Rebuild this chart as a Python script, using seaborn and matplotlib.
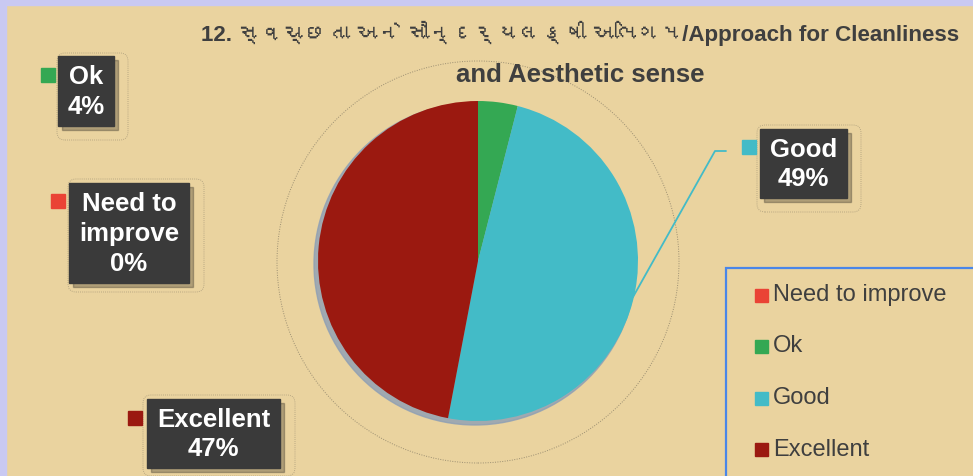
import matplotlib
matplotlib.use('Agg')
import matplotlib.pyplot as plt
import seaborn as sns
from matplotlib import font_manager, ft2font
from matplotlib.patches import Rectangle, FancyBboxPatch, Circle

categories = ['Need to improve', 'Ok', 'Good', 'Excellent']
percent = [0, 4, 49, 47]
slice_colors = ['#EA4335', '#34A853', '#43BBC7', '#9B1910']
title_line1 = '12. સ્વચ્છતા અને સૌન્દર્યલક્ષી અભિગમ/Approach for Cleanliness'
title_line2 = 'and Aesthetic sense'

sns.set_theme(style='white')

# look for any installed family that carries Gujarati glyphs
gujarati = None
for f in font_manager.fontManager.ttflist:
    try:
        cmap = ft2font.FT2Font(f.fname).get_charmap()
    except Exception:
        continue
    if 0x0A85 in cmap and 0x0AB8 in cmap:
        gujarati = f.name
        break

families = ['Liberation Sans']
if gujarati:
    families.append(gujarati)
families.append('DejaVu Sans')
plt.rcParams['font.family'] = families

W, H = 973, 476
fig = plt.figure(figsize=(W / 100, H / 100), dpi=100)
fig.patch.set_facecolor('#EAD39F')
ax = fig.add_axes([0, 0, 1, 1])
ax.patch.set_alpha(0)


def Y(y):
    # top-origin pixel -> data
    return H - y


palette = sns.color_palette(slice_colors)

# frame of the slide
ax.add_patch(Rectangle((0, 0), 6, H, color='#C9C9F2', zorder=1))
ax.add_patch(Rectangle((0, Y(5)), W, 5, color='#C9C9F2', zorder=1))

# dotted ring and soft shadow behind the pie
cx, cy, r = 478, Y(261), 160
ax.add_patch(Circle((cx, Y(262)), 201, fill=False, ls=(0, (1, 1.5)),
                    lw=0.7, color='#9C8F72', zorder=1))
ax.add_patch(Circle((cx - 3, cy - 3), r + 1, color='#8E9FB5', alpha=0.8, zorder=1))

wedges, _ = ax.pie(percent, colors=palette, startangle=90, counterclock=False,
                   center=(cx, cy), radius=r, wedgeprops=dict(linewidth=0))
for w in wedges:
    w.set_zorder(2)

# leader line for Good
ax.plot([633, 715, 726], [Y(297), Y(151), Y(151)], color='#43BBC7', lw=1.3, zorder=3)

# data labels: (center x, center y, width, height, marker x, marker y, outline)
label_boxes = {
    'Ok': (86, 91, 56, 70, 48, 75, (57, 53, 128, 140)),
    'Need to improve': (129, 233, 120, 100, 58, 201, (68, 179, 204, 292)),
    'Good': (803.5, 163.5, 87, 69, 749, 147, (757, 125, 861, 212)),
    'Excellent': (213.5, 433.5, 133, 69, 135, 418, (143, 395, 295, 476)),
}
label_text = {'Need to improve': 'Need to\nimprove'}

for name, pct, col in zip(categories, percent, palette):
    bx, by, bw, bh, mx, my, (ox0, oy0, ox1, oy1) = label_boxes[name]
    ax.add_patch(FancyBboxPatch((ox0, Y(oy1)), ox1 - ox0, oy1 - oy0,
                                boxstyle='round,pad=0,rounding_size=8',
                                fill=False, ls=(0, (1, 1.5)), lw=0.6,
                                ec='#A89A7A', zorder=3))
    ax.add_patch(Rectangle((bx - bw / 2 + 4, Y(by + bh / 2) - 4), bw, bh,
                           color='#000000', alpha=0.25, zorder=4))
    ax.add_patch(Rectangle((bx - bw / 2, Y(by + bh / 2)), bw, bh,
                           color='#3A3A3A', zorder=5))
    ax.add_patch(Rectangle((mx - 7, Y(my) - 7), 14, 14, color=col, zorder=5))
    ax.text(bx, Y(by) - 1, f"{label_text.get(name, name)}\n{pct}%", ha='center',
            va='center', color='white', fontsize=18.5, fontweight='bold',
            linespacing=1.3, zorder=6)

# legend
ax.add_patch(Rectangle((726, Y(480)), 260, 480 - 268, fill=False,
                       ec='#4A86E8', lw=1.6, zorder=4))
for i, (name, col) in enumerate(zip(categories, palette)):
    ly = 295 + i * 51.5
    ax.add_patch(Rectangle((755, Y(ly) - 6.5), 13, 13, color=col, zorder=5))
    ax.text(773, Y(ly), name, ha='left', va='center', fontsize=17,
            color='#3F3F3F', zorder=5)

# title
t1 = ax.text(580, Y(33), title_line1, ha='center', va='center', fontsize=18.5,
             fontweight='bold', color='#3F3F3F', zorder=5)
ax.text(580, Y(75), title_line2, ha='center', va='center', fontsize=18.5,
        fontweight='bold', color='#3F3F3F', zorder=5)

ax.set_xlim(0, W)
ax.set_ylim(0, H)
ax.set_aspect('auto')
ax.axis('off')

# keep the first title line inside the span it has in the slide
fig.canvas.draw()
width = t1.get_window_extent().width
if width > 760:
    t1.set_fontsize(18.5 * 760 / width)

plt.savefig('out.png', dpi=100, facecolor=fig.get_facecolor())
